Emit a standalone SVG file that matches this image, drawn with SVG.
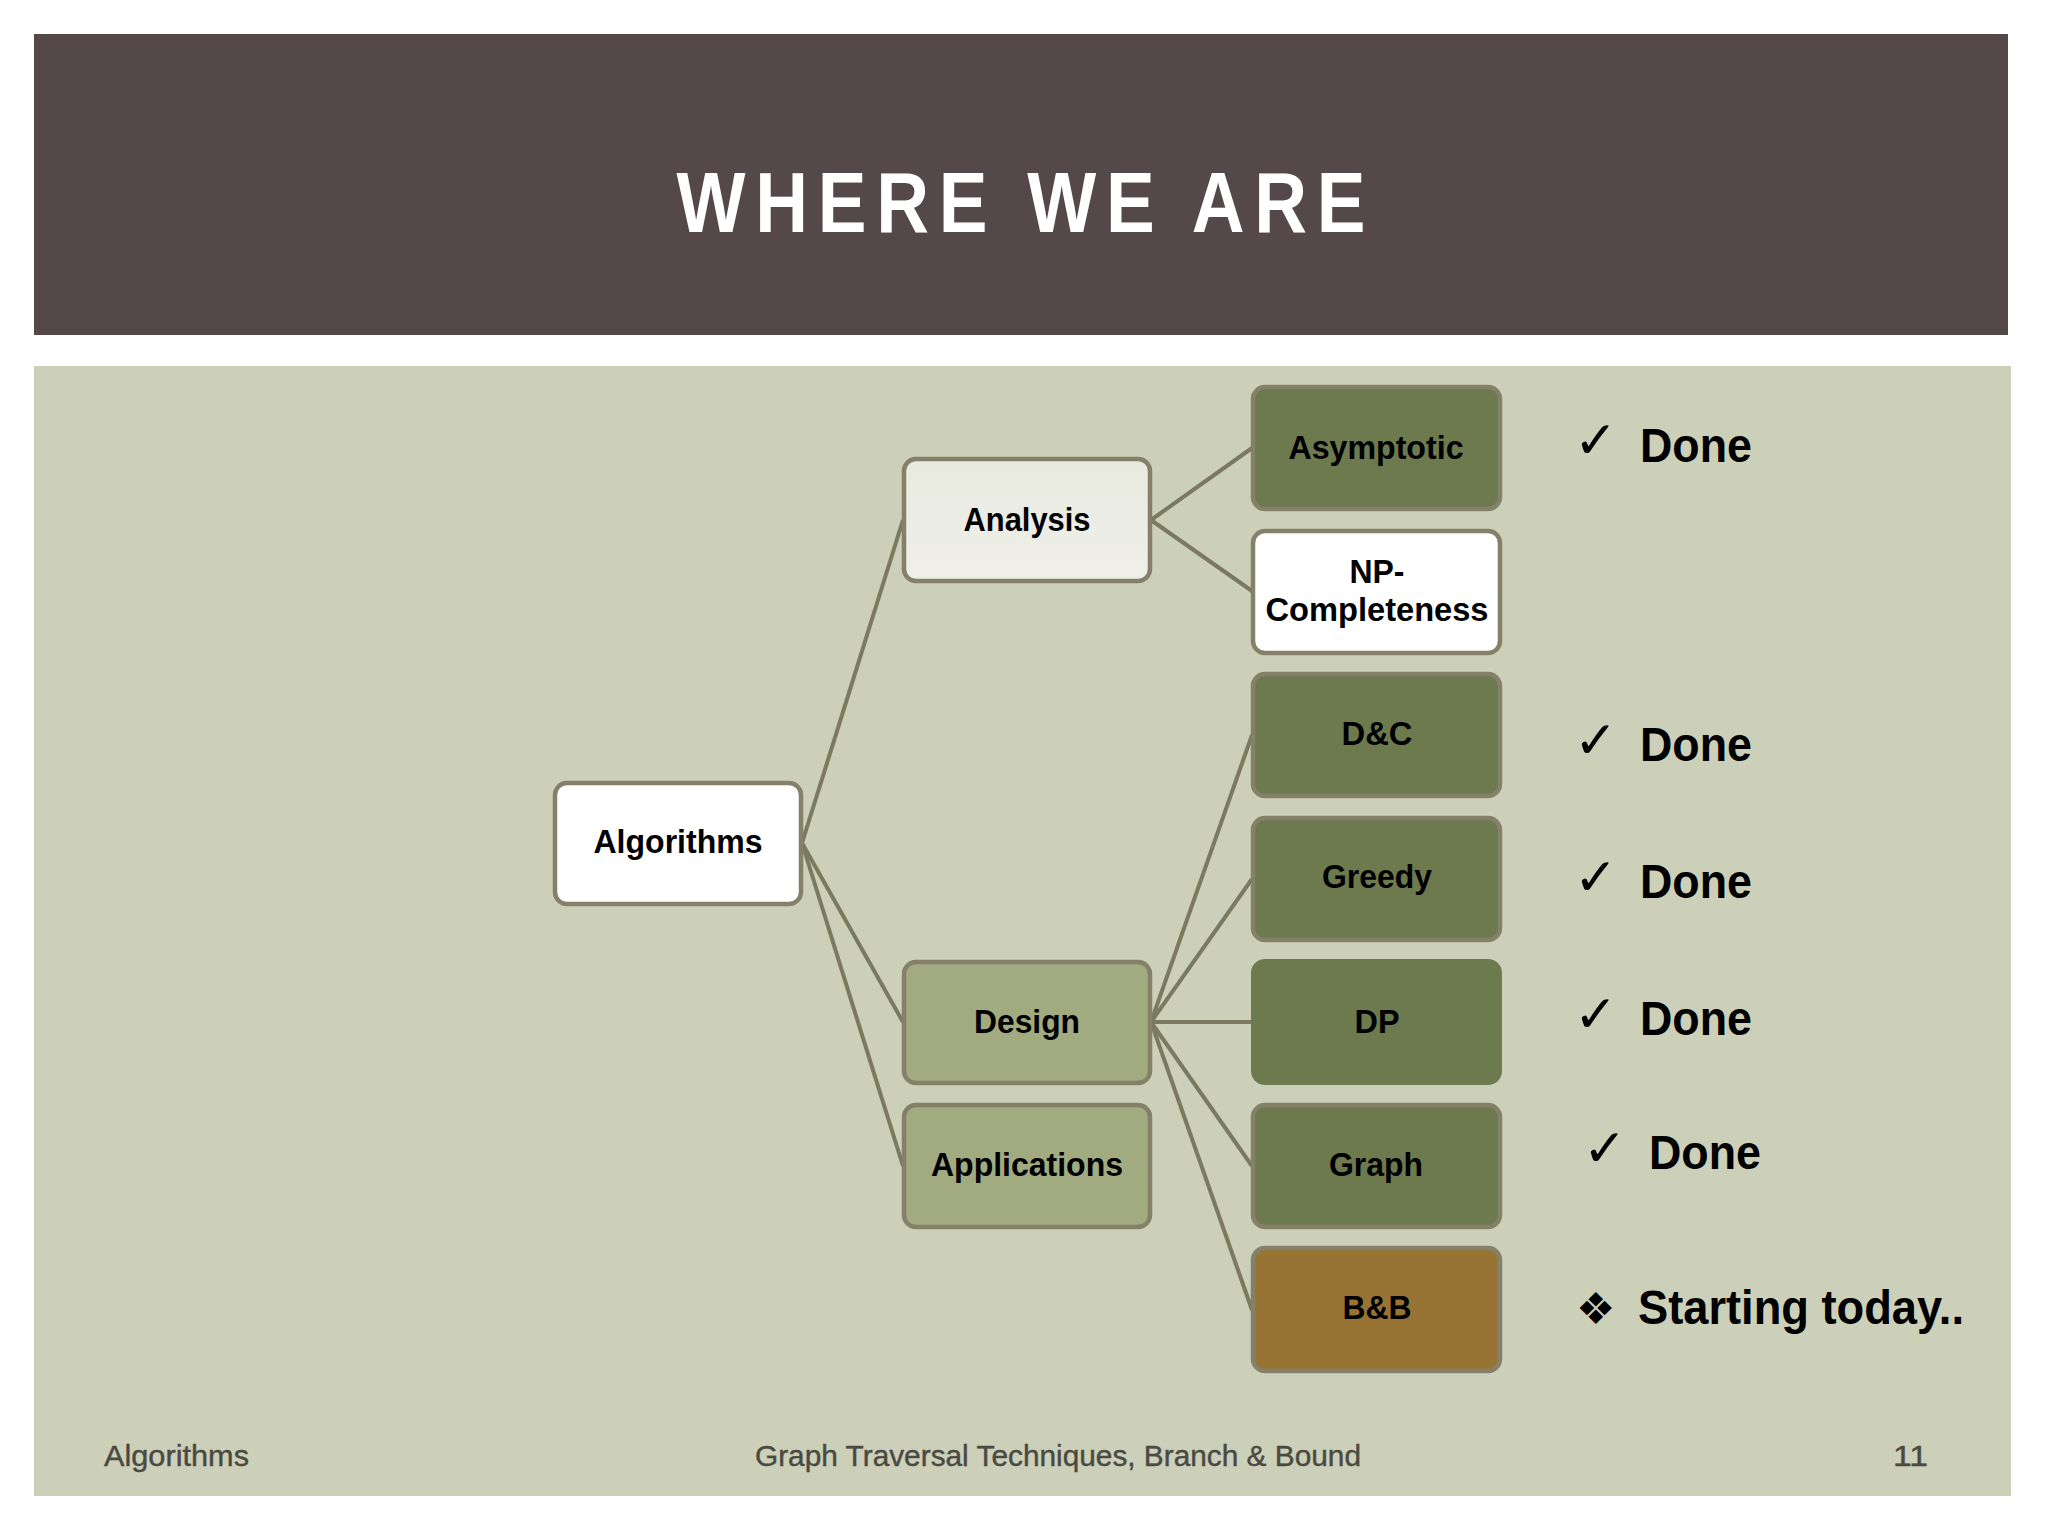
<svg xmlns="http://www.w3.org/2000/svg" width="2048" height="1536" viewBox="0 0 2048 1536">
  <defs>
    <linearGradient id="gAnalysis" x1="0" y1="0" x2="0" y2="1">
      <stop offset="0" stop-color="#E8EADF"/>
      <stop offset="1" stop-color="#EFEFE8"/>
    </linearGradient>
  </defs>
  <style>
    .box { stroke: #858069; stroke-width: 4.5; }
    .white { fill: #FFFFFF; }
    .light { fill: url(#gAnalysis); }
    .mid { fill: #A1AB7F; }
    .dark { fill: #6C7A4D; }
    .bb { fill: #977434; }
    .lbl { font-family: "Liberation Sans", Arial, sans-serif; font-weight: bold; font-size: 34px; fill: #000000; text-anchor: middle; }
    .done { font-family: "Liberation Sans", Arial, sans-serif; font-weight: bold; font-size: 49px; fill: #000000; }
    .sym { font-family: "DejaVu Sans", sans-serif; fill: #000000; }
    .chk { font-size: 52px; }
    .foot { font-family: "Liberation Sans", Arial, sans-serif; font-size: 29px; fill: #4A4942; stroke: #4A4942; stroke-width: 0.4; }
    .conn { stroke: #7B795F; stroke-width: 4; fill: none; }
  </style>

  <rect x="0" y="0" width="2048" height="1536" fill="#FFFFFF"/>
  <g id="header">
    <rect x="34" y="34" width="1974" height="301" fill="#54484A"/>
    <text transform="translate(1021,232) scale(0.86,1)" x="0" y="0" font-family="'Liberation Sans', Arial, sans-serif" font-weight="bold" font-size="85" fill="#FFFFFF" text-anchor="middle" textLength="801" lengthAdjust="spacing">WHERE WE ARE</text>
  </g>
  <rect id="panel" x="34" y="366" width="1977" height="1130" fill="#CDD0B9"/>

  <g id="connectors">
    <line class="conn" x1="802" y1="843" x2="903" y2="520"/>
    <line class="conn" x1="802" y1="843" x2="903" y2="1022"/>
    <line class="conn" x1="802" y1="843" x2="903" y2="1166"/>
    <line class="conn" x1="1151" y1="520" x2="1252" y2="448"/>
    <line class="conn" x1="1151" y1="520" x2="1252" y2="591"/>
    <line class="conn" x1="1151" y1="1022" x2="1252" y2="735"/>
    <line class="conn" x1="1151" y1="1022" x2="1252" y2="879"/>
    <line class="conn" x1="1151" y1="1022" x2="1252" y2="1022"/>
    <line class="conn" x1="1151" y1="1022" x2="1252" y2="1166"/>
    <line class="conn" x1="1151" y1="1022" x2="1252" y2="1310"/>
  </g>

  <g id="node-algorithms">
    <rect class="box white" x="555" y="783" width="246" height="121" rx="12"/>
    <text class="lbl" x="678" y="853" textLength="169" lengthAdjust="spacingAndGlyphs">Algorithms</text>
  </g>
  <g id="node-analysis">
    <rect class="box light" x="904" y="459" width="246" height="122" rx="12"/>
    <text class="lbl" x="1027" y="531" textLength="127" lengthAdjust="spacingAndGlyphs">Analysis</text>
  </g>
  <g id="node-design">
    <rect class="box mid" x="904" y="962" width="246" height="121" rx="12"/>
    <text class="lbl" x="1027" y="1033" textLength="106" lengthAdjust="spacingAndGlyphs">Design</text>
  </g>
  <g id="node-applications">
    <rect class="box mid" x="904" y="1105" width="246" height="122" rx="12"/>
    <text class="lbl" x="1027" y="1176" textLength="192" lengthAdjust="spacingAndGlyphs">Applications</text>
  </g>

  <g id="node-asymptotic">
    <rect class="box dark" x="1253" y="387" width="247" height="122" rx="12"/>
    <text class="lbl" x="1376" y="459" textLength="175" lengthAdjust="spacingAndGlyphs">Asymptotic</text>
  </g>
  <g id="node-np">
    <rect class="box white" x="1253" y="531" width="247" height="122" rx="12"/>
    <text class="lbl" x="1377" y="583" textLength="55" lengthAdjust="spacingAndGlyphs">NP-</text>
    <text class="lbl" x="1377" y="621" textLength="223" lengthAdjust="spacingAndGlyphs">Completeness</text>
  </g>
  <g id="node-dc">
    <rect class="box dark" x="1253" y="674" width="247" height="122" rx="12"/>
    <text class="lbl" x="1377" y="745" textLength="71" lengthAdjust="spacingAndGlyphs">D&amp;C</text>
  </g>
  <g id="node-greedy">
    <rect class="box dark" x="1253" y="818" width="247" height="122" rx="12"/>
    <text class="lbl" x="1377" y="888" textLength="110" lengthAdjust="spacingAndGlyphs">Greedy</text>
  </g>
  <g id="node-dp">
    <rect class="dark" x="1252" y="960" width="249" height="124" rx="13" stroke="#6E7A51" stroke-width="2"/>
    <text class="lbl" x="1377" y="1033" textLength="45" lengthAdjust="spacingAndGlyphs">DP</text>
  </g>
  <g id="node-graph">
    <rect class="box dark" x="1253" y="1105" width="247" height="122" rx="12" stroke="#77795C"/>
    <text class="lbl" x="1376" y="1176" textLength="94" lengthAdjust="spacingAndGlyphs">Graph</text>
  </g>
  <g id="node-bb">
    <rect class="box bb" x="1253" y="1248" width="247" height="123" rx="12"/>
    <text class="lbl" x="1377" y="1319" textLength="69" lengthAdjust="spacingAndGlyphs">B&amp;B</text>
  </g>

  <g id="status">
    <text class="sym chk" x="1574" y="458">✓</text>
    <text class="done" x="1640" y="462" textLength="112" lengthAdjust="spacingAndGlyphs">Done</text>
    <text class="sym chk" x="1574" y="758">✓</text>
    <text class="done" x="1640" y="761" textLength="112" lengthAdjust="spacingAndGlyphs">Done</text>
    <text class="sym chk" x="1574" y="895">✓</text>
    <text class="done" x="1640" y="898" textLength="112" lengthAdjust="spacingAndGlyphs">Done</text>
    <text class="sym chk" x="1574" y="1032">✓</text>
    <text class="done" x="1640" y="1035" textLength="112" lengthAdjust="spacingAndGlyphs">Done</text>
    <text class="sym chk" x="1583" y="1166">✓</text>
    <text class="done" x="1649" y="1169" textLength="112" lengthAdjust="spacingAndGlyphs">Done</text>
    <text class="sym" x="1576" y="1324" font-size="44">❖</text>
    <text class="done" x="1638" y="1324" font-size="46" textLength="326" lengthAdjust="spacingAndGlyphs">Starting today..</text>
  </g>

  <g id="footer">
    <text class="foot" x="104" y="1466" textLength="145" lengthAdjust="spacingAndGlyphs">Algorithms</text>
    <text class="foot" x="755" y="1466" textLength="606" lengthAdjust="spacingAndGlyphs">Graph Traversal Techniques, Branch &amp; Bound</text>
    <text class="foot" x="1893" y="1466" textLength="35" lengthAdjust="spacingAndGlyphs">11</text>
  </g>
</svg>
